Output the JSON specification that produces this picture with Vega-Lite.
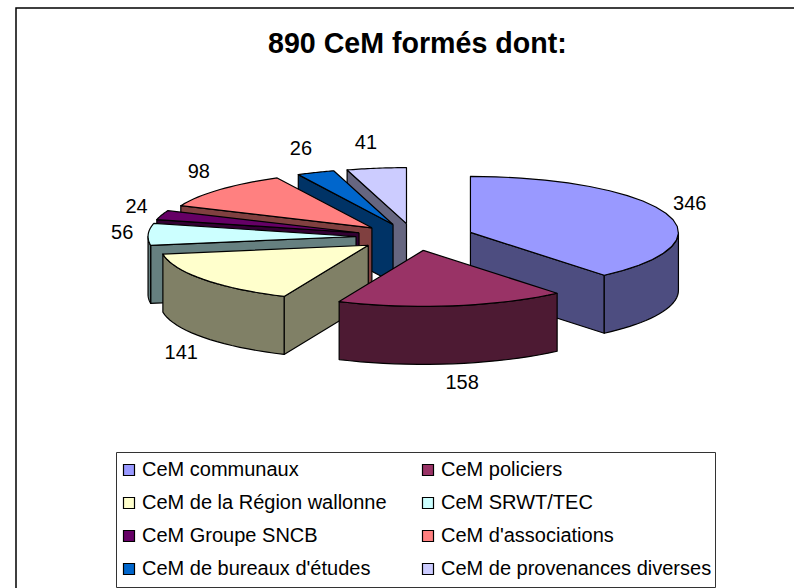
{
  "$schema": "https://vega.github.io/schema/vega-lite/v6.json",
  "width": 779,
  "height": 581,
  "autosize": {"type": "none"},
  "padding": {"left": 16, "top": 8, "right": 0, "bottom": 0},
  "background": "white",
  "config": {"view": {"stroke": "black", "strokeWidth": 1.5}, "font": "Liberation Sans"},
  "title": {"text": "890 CeM formés dont:", "font": "Liberation Sans", "fontSize": 28.6, "fontWeight": "bold", "color": "black", "anchor": "start", "orient": "top", "offset": -51, "dx": 252},
  "data": {"values": [
    {"cat": "CeM de provenances diverses", "value": 41},
    {"cat": "CeM de bureaux d'études", "value": 26},
    {"cat": "CeM d'associations", "value": 98},
    {"cat": "CeM Groupe SNCB", "value": 24},
    {"cat": "CeM SRWT/TEC", "value": 56},
    {"cat": "CeM de la Région wallonne", "value": 141},
    {"cat": "CeM communaux", "value": 346},
    {"cat": "CeM policiers", "value": 158}
  ]},
  "transform": [
    {"calculate": "indexof(['CeM communaux','CeM policiers','CeM de la Région wallonne','CeM SRWT/TEC','CeM Groupe SNCB',\"CeM d'associations\",\"CeM de bureaux d'études\",'CeM de provenances diverses'], datum.cat)", "as": "rank"},
    {"window": [{"op": "sum", "field": "value", "as": "cum"}], "sort": [{"field": "rank", "order": "ascending"}]},
    {"calculate": "(datum.cum - datum.value) / 890 * 2 * PI", "as": "a0"},
    {"calculate": "datum.cum / 890 * 2 * PI", "as": "a1"},
    {"calculate": "(datum.a0 + datum.a1) / 2", "as": "am"},
    {"calculate": "399 + 59 * sin(datum.am)", "as": "ax"},
    {"calculate": "229 - 13.5 * cos(datum.am)", "as": "ay"},
    {"calculate": "399 + 285 * sin(datum.am) + (sin(datum.am) > 0 ? 7 : -8)", "as": "lx"},
    {"calculate": "229 - 95 * cos(datum.am) + (cos(datum.am) < 0 ? 52 + 8 * max(0, -sin(datum.am)) : 0)", "as": "ly"}
  ],
  "layer": [
    {
      "transform": [
        {"calculate": "['wall','outer','top']", "as": "face"},
        {"flatten": ["face"]},
        {"calculate": "[0,1,2,3,4,5,6,7,8,9,10,11,12,13,14,15,16,17,18,19,20,21,22,23,24,25,26,27,28,29,30,31,32,33,34,35,36,37,38,39,40,41,42]", "as": "k"},
        {"flatten": ["k"]},
        {"calculate": "max(datum.a0, PI / 2)", "as": "f0"},
        {"calculate": "min(datum.a1, 3 * PI / 2)", "as": "f1"},
        {"calculate": "sin(datum.a0) < -0.001 ? datum.a0 : (sin(datum.a1) > 0.001 ? datum.a1 : -1)", "as": "edge"},
        {"filter": "datum.face === 'top' ? datum.k <= 22 : datum.face === 'wall' ? (datum.k <= 4 && datum.edge >= 0) : datum.f1 > datum.f0"},
        {"calculate": "datum.face === 'top' ? datum.a0 + (datum.a1 - datum.a0) * (datum.k - 1) / 20 : datum.face === 'outer' ? (datum.k <= 20 ? datum.f0 + (datum.f1 - datum.f0) * datum.k / 20 : datum.f1 - (datum.f1 - datum.f0) * min(datum.k - 21, 20) / 20) : datum.edge", "as": "th"},
        {"calculate": "datum.face === 'top' ? (datum.k === 0 || datum.k === 22 ? 0 : 1) : datum.face === 'outer' ? 1 : (datum.k === 1 || datum.k === 2 ? 1 : 0)", "as": "rim"},
        {"calculate": "datum.face === 'top' ? 0 : datum.face === 'outer' ? (datum.k >= 21 && datum.k <= 41 ? 58 : 0) : (datum.k === 2 || datum.k === 3 ? 58 : 0)", "as": "drop"},
        {"calculate": "datum.ax + datum.rim * 208 * sin(datum.th)", "as": "px"},
        {"calculate": "datum.ay - datum.rim * 56 * cos(datum.th) + datum.drop", "as": "py"},
        {"calculate": "datum.face === 'top' ? datum.cat : 'wall ' + datum.cat", "as": "paint"},
        {"calculate": "datum.cat + ' ' + datum.face", "as": "piece"}
      ],
      "mark": {"type": "line", "stroke": "black", "strokeWidth": 1.2, "strokeJoin": "round", "interpolate": "linear"},
      "encoding": {
        "x": {"field": "px", "type": "quantitative", "scale": {"domain": [0, 779], "nice": false}, "axis": null},
        "y": {"field": "py", "type": "quantitative", "scale": {"domain": [581, 0], "nice": false}, "axis": null},
        "order": {"field": "k", "type": "quantitative"},
        "detail": {"field": "piece"},
        "fill": {
          "field": "paint",
          "type": "nominal",
          "scale": {
            "domain": ["CeM communaux","CeM policiers","CeM de la Région wallonne","CeM SRWT/TEC","CeM Groupe SNCB","CeM d'associations","CeM de bureaux d'études","CeM de provenances diverses","wall CeM communaux","wall CeM policiers","wall CeM de la Région wallonne","wall CeM SRWT/TEC","wall CeM Groupe SNCB","wall CeM d'associations","wall CeM de bureaux d'études","wall CeM de provenances diverses"],
            "range": ["#9999FF","#993366","#FFFFCC","#CCFFFF","#660066","#FF8080","#0066CC","#CCCCFF","#4D4D80","#4D1A33","#808066","#668080","#330033","#804040","#003366","#666680"]
          },
          "legend": {
            "values": ["CeM communaux","CeM policiers","CeM de la Région wallonne","CeM SRWT/TEC","CeM Groupe SNCB","CeM d'associations","CeM de bureaux d'études","CeM de provenances diverses"],
            "title": null,
            "orient": "none",
            "legendX": 100,
            "legendY": 444,
            "columns": 2,
            "direction": "horizontal",
            "symbolType": "square",
            "symbolSize": 121,
            "symbolStrokeColor": "black",
            "symbolStrokeWidth": 1.2,
            "labelFont": "Liberation Sans",
            "labelFontSize": 20,
            "labelColor": "black",
            "labelLimit": 320,
            "labelOffset": 3,
            "columnPadding": 31,
            "rowPadding": 3,
            "clipHeight": 30,
            "strokeColor": "#333333",
            "fillColor": "white",
            "padding": 3
          }
        }
      }
    },
    {
      "mark": {"type": "text", "font": "Liberation Sans", "fontSize": 20, "color": "black", "align": "center", "baseline": "middle"},
      "encoding": {
        "x": {"field": "lx", "type": "quantitative"},
        "y": {"field": "ly", "type": "quantitative"},
        "text": {"field": "value", "type": "quantitative"}
      }
    }
  ]
}
